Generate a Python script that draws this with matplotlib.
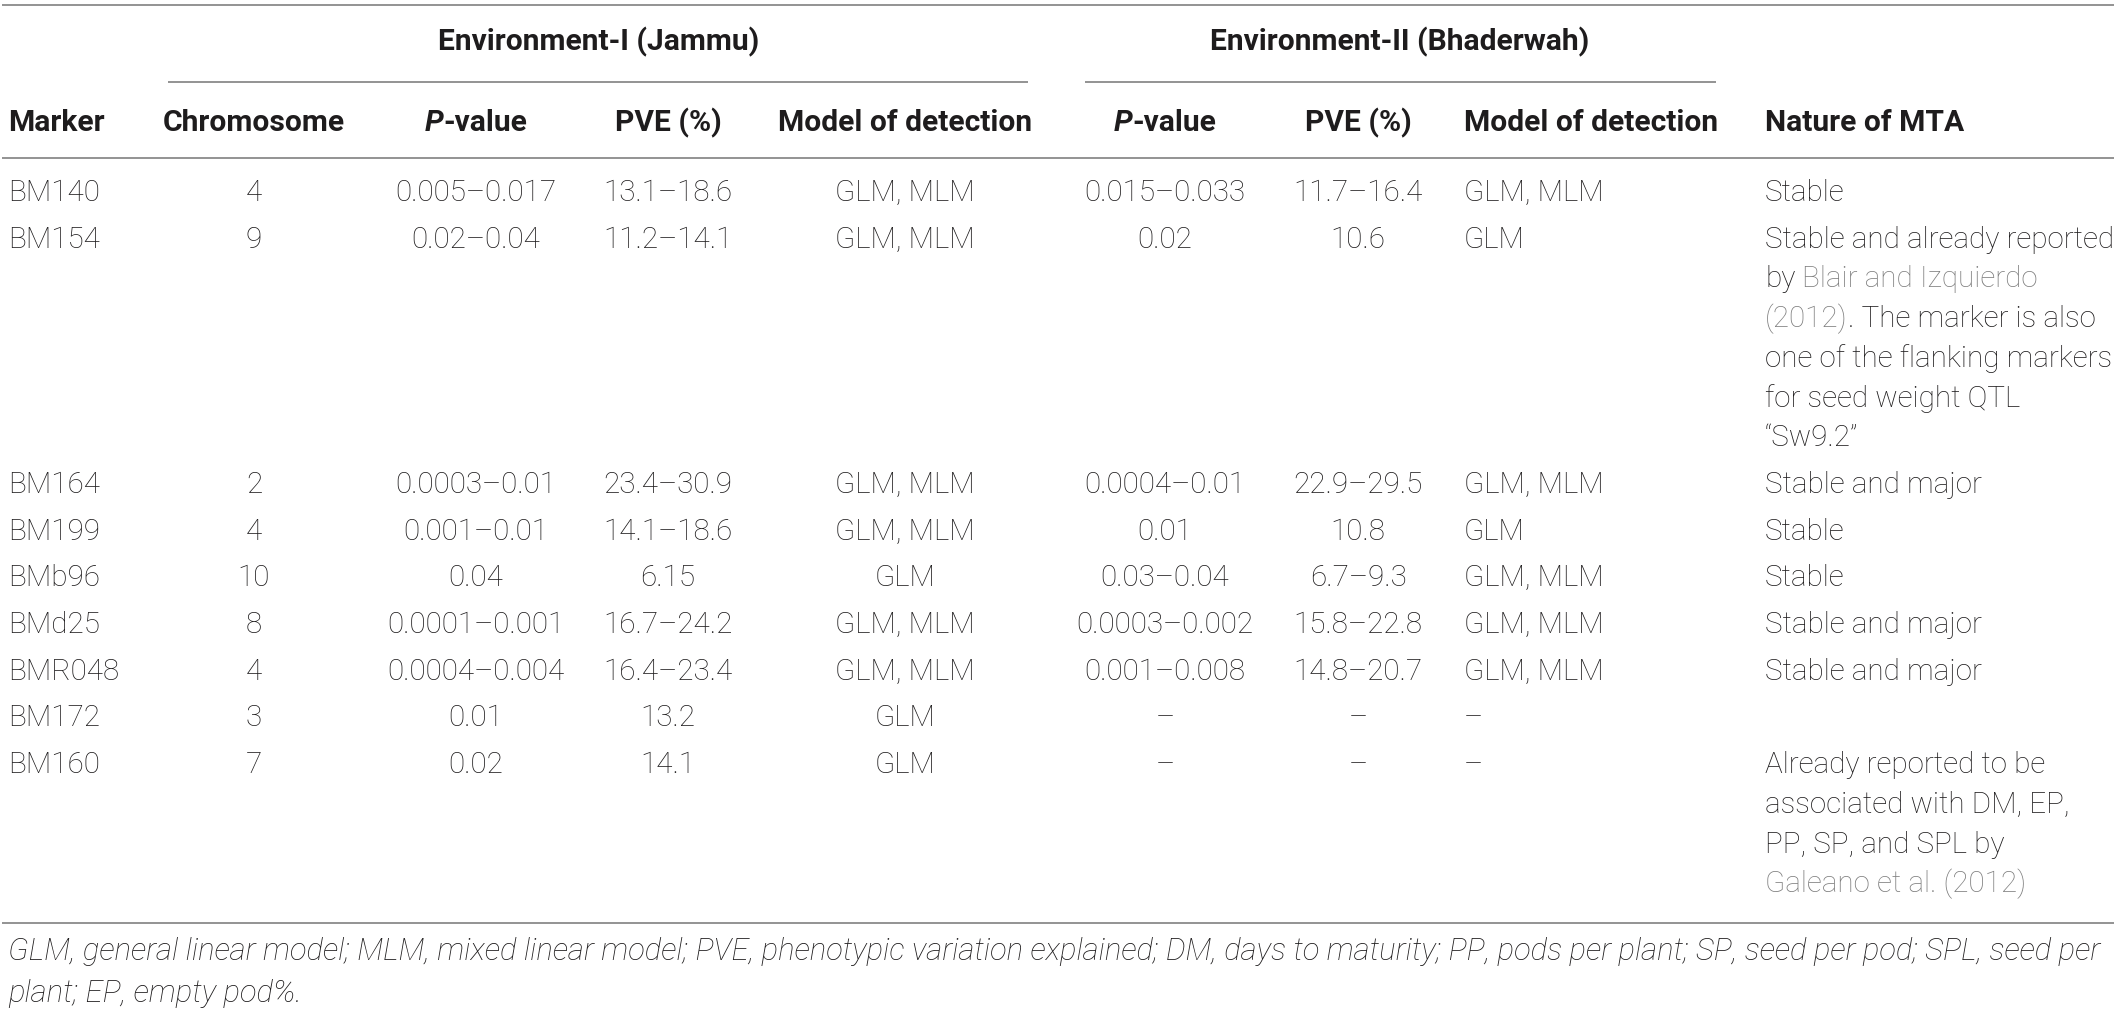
import matplotlib
matplotlib.use("Agg")
import matplotlib.pyplot as plt

# ---------------- data ----------------
env_headers = ["Environment-I (Jammu)", "Environment-II (Bhaderwah)"]
col_headers = ["Marker", "Chromosome", "P-value", "PVE (%)", "Model of detection",
               "P-value", "PVE (%)", "Model of detection", "Nature of MTA"]
markers = ["BM140", "BM154", "BM164", "BM199", "BMb96", "BMd25", "BMR048", "BM172", "BM160"]
chromosome = ["4", "9", "2", "4", "10", "8", "4", "3", "7"]
pvalue_env1 = ["0.005–0.017", "0.02–0.04", "0.0003–0.01", "0.001–0.01", "0.04",
               "0.0001–0.001", "0.0004–0.004", "0.01", "0.02"]
pve_env1 = ["13.1–18.6", "11.2–14.1", "23.4–30.9", "14.1–18.6", "6.15",
            "16.7–24.2", "16.4–23.4", "13.2", "14.1"]
model_env1 = ["GLM, MLM", "GLM, MLM", "GLM, MLM", "GLM, MLM", "GLM",
              "GLM, MLM", "GLM, MLM", "GLM", "GLM"]
pvalue_env2 = ["0.015–0.033", "0.02", "0.0004–0.01", "0.01", "0.03–0.04",
               "0.0003–0.002", "0.001–0.008", "–", "–"]
pve_env2 = ["11.7–16.4", "10.6", "22.9–29.5", "10.8", "6.7–9.3",
            "15.8–22.8", "14.8–20.7", "–", "–"]
model_env2 = ["GLM, MLM", "GLM", "GLM, MLM", "GLM", "GLM, MLM",
              "GLM, MLM", "GLM, MLM", "–", "–"]
# nature of MTA: list of lines, each line a list of (text, is_citation)
nature = [
    [[("Stable", False)]],
    [[("Stable and already reported", False)],
     [("by ", False), ("Blair and Izquierdo", True)],
     [("(2012)", True), (". The marker is also", False)],
     [("one of the flanking markers", False)],
     [("for seed weight QTL", False)],
     [("“Sw9.2”", False)]],
    [[("Stable and major", False)]],
    [[("Stable", False)]],
    [[("Stable", False)]],
    [[("Stable and major", False)]],
    [[("Stable and major", False)]],
    [[("", False)]],
    [[("Already reported to be", False)],
     [("associated with DM, EP,", False)],
     [("PP, SP, and SPL by", False)],
     [("Galeano et al. (2012)", True)]],
]
footnote = ["GLM, general linear model; MLM, mixed linear model; PVE, phenotypic variation explained; "
            "DM, days to maturity; PP, pods per plant; SP, seed per pod; SPL, seed per",
            "plant; EP, empty pod%."]

# ---------------- layout / style ----------------
W, H = 2120, 1009
TXT = "#1e1c1d"
GRAY = "#7d7d7d"
RULE = "#8a8a8a"
FAM = ["Roboto", "DejaVu Sans"]
body = dict(family=FAM, fontsize=21.3, fontweight="light", color=TXT)
head = dict(family=FAM, fontsize=21.6, fontweight="bold", color=TXT)
foot = dict(family=FAM, fontsize=22.3, fontweight="light", style="italic", color=TXT)

fig = plt.figure(figsize=(W / 100, H / 100), dpi=100)
ax = fig.add_axes([0, 0, 1, 1])
ax.set_xlim(0, W)
ax.set_ylim(H, 0)
ax.axis("off")
renderer = fig.canvas.get_renderer()


def width(s, props):
    if s == "":
        return 0.0
    t1 = ax.text(0, 0, "I" + s + "I", **props)
    t2 = ax.text(0, 0, "II", **props)
    w = t1.get_window_extent(renderer).width - t2.get_window_extent(renderer).width
    t1.remove(); t2.remove()
    return w


def runs_text(x, y, runs, ha="left"):
    """runs: list of (text, props) drawn one after another on a line"""
    cum = 0.0
    offs = []
    for s, p in runs:
        offs.append(cum)
        cum += width(s, p)
    total = cum
    if ha == "center":
        x0 = x - total / 2
    elif ha == "right":
        x0 = x - total
    else:
        x0 = x
    for (s, p), o in zip(runs, offs):
        lead = len(s) - len(s.lstrip(" "))
        lw = width(" " * lead, p) if lead else 0
        if s.strip():
            ax.text(x0 + o + lw, y, s.strip(), ha="left", va="center", **p)


def hline(y, x0, x1):
    ax.plot([x0, x1], [y, y], color=RULE, lw=1.3, solid_capstyle="butt")


# rules
hline(5, 2, 2114)
hline(82, 168, 1028)
hline(82, 1085, 1716)
hline(158, 2, 2114)
hline(923, 2, 2114)

# environment headers
ax.text(599, 42, env_headers[0], ha="center", va="center", **head)
ax.text(1400, 42, env_headers[1], ha="center", va="center", **head)

# column positions
col_x = [8, 254, 476, 668, 905, 1165, 1358, 1464, 1765]
col_ha = ["left", "center", "center", "center", "center", "center", "center", "left", "left"]

HY = 123
head_it = dict(head, style="italic")
for i, (lab, x, ha) in enumerate(zip(col_headers, col_x, col_ha)):
    if lab == "P-value":
        runs_text(x, HY, [("P", head_it), ("-value", head)], ha=ha)
    else:
        ax.text(x, HY, lab, ha=ha, va="center", **head)

# body rows
y = 193.0
ROW = 46.7
LINE = 39.7
columns = [markers, chromosome, pvalue_env1, pve_env1, model_env1,
           pvalue_env2, pve_env2, model_env2]
for r in range(len(markers)):
    for c, vals in enumerate(columns):
        ax.text(col_x[c], y, vals[r], ha=col_ha[c], va="center", **body)
    lines = nature[r]
    for k, line in enumerate(lines):
        runs = [(s, dict(body, color=GRAY if cit else TXT)) for s, cit in line]
        if any(s for s, _ in line):
            runs_text(col_x[8], y + k * LINE, runs, ha="left")
    y += (len(lines) - 1) * LINE + ROW

# footnote
ax.text(8, 952, footnote[0], ha="left", va="center", **foot)
ax.text(8, 993, footnote[1], ha="left", va="center", **foot)

fig.savefig("out.png", dpi=100, facecolor="white")
